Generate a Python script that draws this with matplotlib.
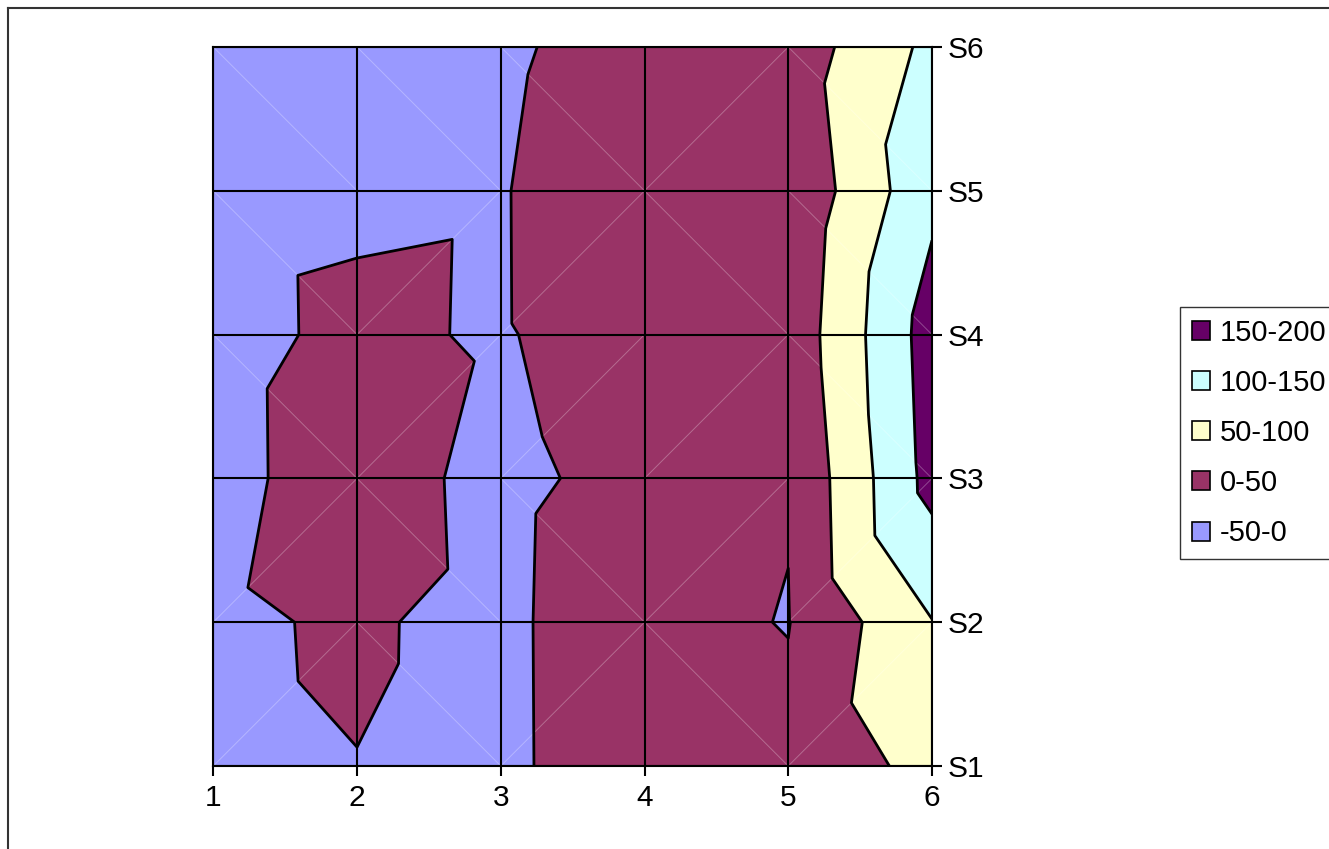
import matplotlib
matplotlib.use("Agg")
import matplotlib.pyplot as plt
import matplotlib.tri as mtri
from matplotlib.patches import Patch
from matplotlib.lines import Line2D
import numpy as np

plt.rcParams["font.family"] = ["Liberation Sans", "DejaVu Sans"]

# grid data: columns 1..6, series S1..S6
cols = [1, 2, 3, 4, 5, 6]
series = ["S1", "S2", "S3", "S4", "S5", "S6"]
S1 = [-2.1, -0.22, -3.6, 12.0, 12.0, 66.0]
S2 = [-1.9, 1.46, -3.5, 12.1, -1.5, 98.5]
S3 = [-3.7, 6.0, -3.9, 5.5, 2.5, 167.0]
S4 = [-3.6, 2.45, -1.35, 9.6, 15.4, 172.8]
S5 = [-3.5, -2.15, -1.25, 16.3, 6.7, 138.0]
S6 = [-3.5, -3.0, -3.8, 11.2, 20.3, 112.3]

levels = [-50, 0, 50, 100, 150, 200]
band_labels = ["-50-0", "0-50", "50-100", "100-150", "150-200"]
band_colors = ["#9999FF", "#993366", "#FFFFCC", "#CCFFFF", "#660066"]

Z = np.array([S1, S2, S3, S4, S5, S6])
ny, nx = Z.shape
ys = np.arange(1, ny + 1)
X, Y = np.meshgrid(cols, ys)

# each cell is split along the diagonal with the higher mean (Excel-like)
tris, diags = [], []
idx = lambda i, j: j * nx + i
for j in range(ny - 1):
    for i in range(nx - 1):
        bl, br, tl, tr = idx(i, j), idx(i + 1, j), idx(i, j + 1), idx(i + 1, j + 1)
        if Z[j, i] + Z[j + 1, i + 1] >= Z[j, i + 1] + Z[j + 1, i]:
            tris += [[bl, br, tr], [bl, tr, tl]]
            diags.append((bl, tr))
        else:
            tris += [[bl, br, tl], [br, tr, tl]]
            diags.append((br, tl))
tri = mtri.Triangulation(X.ravel(), Y.ravel(), np.array(tris))
zf = Z.ravel()

fig = plt.figure(figsize=(13.29, 8.49), dpi=100)
ax = fig.add_axes([213.3 / 1329, 1 - 766 / 849, (932 - 213.3) / 1329, (766 - 47) / 849])

ax.tricontourf(tri, zf, levels=levels, colors=band_colors, zorder=1)
xf, yf = X.ravel(), Y.ravel()
for a, b in diags:
    ax.plot([xf[a], xf[b]], [yf[a], yf[b]], color="white", lw=0.7, alpha=0.28, zorder=2)
ax.tricontour(tri, zf, levels=levels[1:-1], colors="black", linewidths=2.0, zorder=3)

ax.set_xlim(cols[0], cols[-1])
ax.set_ylim(ys[0], ys[-1])
ax.set_xticks(cols)
ax.set_yticks(ys)
ax.set_yticklabels(series)
ax.yaxis.tick_right()
ax.grid(True, color="black", lw=1.5)
ax.set_axisbelow(False)
for s in ax.spines.values():
    s.set_color("black")
    s.set_linewidth(1.5)
ax.tick_params(direction="out", length=7, width=1.5, labelsize=21.5, colors="black")
ax.tick_params(axis="x", pad=6)
ax.tick_params(axis="y", pad=4)

# outer chart border (left / top)
fig.add_artist(Line2D([8 / 1329, 8 / 1329], [0, 1 - 7.5 / 849], color="#333333", lw=1.5,
                      transform=fig.transFigure))
fig.add_artist(Line2D([8 / 1329, 1], [1 - 7.5 / 849, 1 - 7.5 / 849], color="#333333", lw=1.5,
                      transform=fig.transFigure))

handles = [Patch(facecolor=c, edgecolor="black", lw=1.2, label=l)
           for c, l in zip(band_colors[::-1], band_labels[::-1])]
fig.legend(handles=handles, loc="upper left", bbox_to_anchor=(1180 / 1329, 1 - 307 / 849),
           frameon=True, fancybox=False, edgecolor="black", fontsize=21,
           handlelength=0.62, handleheight=0.62, handletextpad=0.35,
           labelspacing=0.76, borderpad=0.4, borderaxespad=0).get_frame().set_linewidth(1.0)

fig.savefig("out.png", dpi=100, facecolor="white")
